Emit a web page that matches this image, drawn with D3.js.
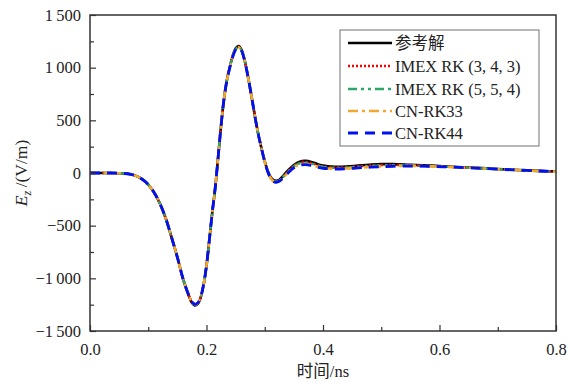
<!DOCTYPE html>
<html>
<head>
<meta charset="utf-8">
<script src="https://cdn.jsdelivr.net/npm/d3@7"></script>
<style>
  html, body { margin: 0; padding: 0; background: #fff; }
  svg { display: block; }
  text { font-family: "Liberation Serif", "Times New Roman", Tinos, "DejaVu Serif", serif, "Noto Sans CJK SC"; fill: #222; }
</style>
</head>
<body>
<svg id="chart" width="571" height="382"></svg>
<script>
// Time samples (ns)
const time = [0, 0.03, 0.05, 0.07, 0.08, 0.09, 0.10, 0.11, 0.12, 0.13, 0.14, 0.15, 0.16, 0.17, 0.175,
  0.18, 0.185, 0.19, 0.195, 0.20, 0.205, 0.21, 0.215, 0.22, 0.225, 0.23, 0.235, 0.24, 0.245, 0.25,
  0.255, 0.26, 0.265, 0.27, 0.275, 0.28, 0.285, 0.29, 0.295, 0.30, 0.305, 0.31, 0.315, 0.32, 0.325,
  0.33, 0.34, 0.35, 0.36, 0.37, 0.38, 0.39, 0.40, 0.42, 0.44, 0.46, 0.48, 0.50, 0.52, 0.55, 0.58,
  0.62, 0.66, 0.70, 0.75, 0.80];

// Ez (V/m) for each scheme
const reference = [0, 0, -2, -12, -30, -60, -110, -185, -290, -430, -610, -800, -1010, -1170, -1232,
  -1258, -1242, -1182, -1062, -880, -630, -370, -140, 150, 450, 700, 880, 1005, 1112, 1182,
  1205, 1172, 1082, 952, 800, 640, 480, 340, 220, 110, 22, -38, -68, -74, -64,
  -36, 25, 76, 108, 115, 105, 86, 70, 60, 62, 70, 78, 84, 84, 78, 72,
  60, 50, 38, 25, 14];

const imex343 = [0, 0, -2, -12, -30, -60, -110, -185, -290, -430, -610, -800, -1010, -1168, -1228,
  -1252, -1238, -1180, -1062, -880, -630, -370, -140, 150, 450, 700, 880, 1003, 1108, 1176,
  1198, 1166, 1078, 950, 800, 640, 480, 340, 220, 108, 18, -44, -74, -80, -70,
  -44, 16, 68, 98, 104, 95, 77, 62, 52, 54, 62, 70, 76, 77, 73, 68,
  58, 49, 37, 25, 13];

const imex554 = [0, 0, -2, -12, -30, -60, -110, -185, -290, -430, -610, -800, -1010, -1168, -1227,
  -1250, -1236, -1178, -1060, -880, -630, -370, -140, 150, 450, 700, 880, 1002, 1106, 1174,
  1196, 1165, 1078, 950, 800, 640, 480, 340, 220, 108, 17, -45, -76, -82, -72,
  -46, 12, 64, 92, 98, 90, 72, 58, 48, 50, 58, 66, 72, 74, 71, 66,
  57, 48, 36, 24, 13];

const cnrk33 = [0, 0, -2, -12, -30, -60, -110, -185, -290, -430, -610, -800, -1010, -1166, -1225,
  -1247, -1234, -1176, -1058, -880, -630, -370, -140, 150, 450, 700, 880, 1000, 1104, 1172,
  1194, 1163, 1076, 948, 800, 640, 480, 340, 220, 106, 15, -48, -80, -86, -76,
  -52, 4, 55, 80, 85, 76, 60, 48, 40, 42, 50, 57, 63, 67, 68, 65,
  56, 47, 36, 24, 12];

const cnrk44 = [0, 0, -2, -12, -30, -60, -110, -185, -290, -430, -610, -800, -1010, -1166, -1224,
  -1246, -1233, -1175, -1058, -880, -630, -370, -140, 150, 450, 700, 880, 1000, 1103, 1170,
  1192, 1162, 1076, 948, 800, 640, 480, 340, 220, 106, 14, -50, -82, -88, -78,
  -56, 0, 50, 74, 80, 71, 56, 45, 38, 40, 48, 55, 60, 64, 66, 64,
  56, 47, 36, 24, 12];

const seriesNames = ["参考解", "IMEX RK (3, 4, 3)", "IMEX RK (5, 5, 4)", "CN-RK33", "CN-RK44"];
const seriesValues = [reference, imex343, imex554, cnrk33, cnrk44];
const seriesColors = ["#000000", "#ff0000", "#2ca86a", "#f0a830", "#0010ee"];
const seriesDash = [null, "2,2", "9,4,3,4,3,4", "10,4,3,4", "10,7"];
const seriesWidth = [2.6, 2.4, 2.4, 2.6, 2.8];

const xTicks = [0, 0.2, 0.4, 0.6, 0.8];
const xTickLabels = ["0.0", "0.2", "0.4", "0.6", "0.8"];
const yTicks = [-1500, -1000, -500, 0, 500, 1000, 1500];
const yTickLabels = ["\u22121\u2009500", "\u22121\u2009000", "\u2212500", "0", "500", "1\u2009000", "1\u2009500"];

const svg = d3.select("#chart");
const margin = { left: 90, right: 15, top: 15, bottom: 51 };
const W = 571, H = 382;

const x = d3.scaleLinear().domain([0, 0.8]).range([margin.left, W - margin.right]);
const y = d3.scaleLinear().domain([-1500, 1500]).range([H - margin.bottom, margin.top]);

// Clip curves to the plotting area
svg.append("defs").append("clipPath").attr("id", "plot-clip")
  .append("rect")
  .attr("x", x(0)).attr("y", y(1500))
  .attr("width", x(0.8) - x(0)).attr("height", y(-1500) - y(1500));

const line = d3.line().curve(d3.curveCatmullRom.alpha(0.5));

const curves = svg.append("g").attr("clip-path", "url(#plot-clip)");
seriesValues.forEach((vals, i) => {
  curves.append("path")
    .attr("d", line(time.map((t, k) => [x(t), y(vals[k])])))
    .attr("fill", "none")
    .attr("stroke", seriesColors[i])
    .attr("stroke-width", seriesWidth[i])
    .attr("stroke-dasharray", seriesDash[i])
    .attr("stroke-linejoin", "round");
});

// Axes: ticks point inward; minor ticks between majors
const axisColor = "#333";
const serif = "'Liberation Serif', 'Times New Roman', Tinos, 'DejaVu Serif', serif";
const xAxis = d3.axisBottom(x).tickValues(xTicks).tickSize(-6).tickPadding(12)
  .tickFormat((d, i) => xTickLabels[i]);
const xMinor = d3.axisBottom(x).tickValues([0.1, 0.3, 0.5, 0.7]).tickSize(-4).tickFormat("");
const yAxis = d3.axisLeft(y).tickValues(yTicks).tickSize(-6).tickPadding(9)
  .tickFormat((d, i) => yTickLabels[i]);
const yMinor = d3.axisLeft(y).tickValues([-1250, -750, -250, 250, 750, 1250]).tickSize(-4).tickFormat("");

function styleAxis(g) {
  g.selectAll("path.domain").remove();
  g.selectAll("line").attr("stroke", axisColor).attr("stroke-width", 1.2);
  g.attr("font-family", null);
  g.selectAll("text").attr("font-size", 16.5).attr("fill", "#222").style("font-family", serif);
}

svg.append("g").attr("transform", `translate(0,${y(-1500)})`).call(xAxis).call(styleAxis);
svg.append("g").attr("transform", `translate(0,${y(-1500)})`).call(xMinor).call(styleAxis);
svg.append("g").attr("transform", `translate(${x(0)},0)`).call(yAxis).call(styleAxis);
svg.append("g").attr("transform", `translate(${x(0)},0)`).call(yMinor).call(styleAxis);

// Frame
svg.append("rect")
  .attr("x", x(0)).attr("y", y(1500))
  .attr("width", x(0.8) - x(0)).attr("height", y(-1500) - y(1500))
  .attr("fill", "none").attr("stroke", axisColor).attr("stroke-width", 1.5);

// Axis titles
svg.append("text")
  .attr("x", (x(0) + x(0.8)) / 2).attr("y", 377)
  .attr("text-anchor", "middle").attr("font-size", 16.5)
  .text("时间/ns");

const yTitle = svg.append("text")
  .attr("transform", `translate(27,${y(0)}) rotate(-90)`)
  .attr("text-anchor", "middle").attr("font-size", 17.5);
yTitle.append("tspan").attr("font-style", "italic").text("E");
yTitle.append("tspan").attr("font-style", "italic").attr("font-size", 12).attr("dy", 4).text("z");
yTitle.append("tspan").attr("dy", -4).text("\u2009/(V/m)");

// Legend
const legend = svg.append("g");
legend.append("rect")
  .attr("x", 340).attr("y", 30).attr("width", 199).attr("height", 116)
  .attr("fill", "#fff").attr("stroke", "#888").attr("stroke-width", 1.2);
const rowY = [43, 66, 89, 111, 133];
seriesNames.forEach((name, i) => {
  legend.append("line")
    .attr("x1", 348).attr("x2", 392).attr("y1", rowY[i]).attr("y2", rowY[i])
    .attr("stroke", seriesColors[i]).attr("stroke-width", seriesWidth[i])
    .attr("stroke-dasharray", seriesDash[i]);
  legend.append("text")
    .attr("x", 395).attr("y", rowY[i] + 5.5)
    .attr("font-size", 16.5)
    .text(name);
});
</script>
</body>
</html>
